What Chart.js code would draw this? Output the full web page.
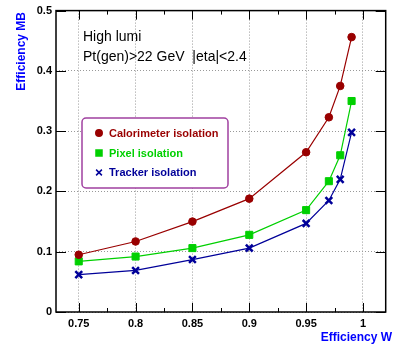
<!DOCTYPE html>
<html lang="en">
<head>
<meta charset="UTF-8">
<title>Efficiency MB vs Efficiency W</title>
<script src="https://cdn.jsdelivr.net/npm/chart.js"></script>
<style>
  html, body { margin: 0; padding: 0; background: #fff; }
  .chart-container { width: 393px; height: 347px; position: relative; }
</style>
</head>
<body>
<div class="chart-container">
  <canvas id="effChart"></canvas>
</div>
<script>
// working points (efficiency W) and efficiency MB for each isolation
var effW = [0.75, 0.8, 0.85, 0.9, 0.95, 0.97, 0.98, 0.99];
var caloIso = [0.095, 0.117, 0.150, 0.188, 0.265, 0.323, 0.375, 0.456];
var pixelIso = [0.084, 0.092, 0.106, 0.128, 0.169, 0.217, 0.260, 0.350];
var trackerIso = [0.062, 0.069, 0.087, 0.106, 0.147, 0.185, 0.220, 0.298];

var seriesNames = ['Calorimeter isolation', 'Pixel isolation', 'Tracker isolation'];
var xTicks = [0.75, 0.8, 0.85, 0.9, 0.95, 1];
var yTicks = [0, 0.1, 0.2, 0.3, 0.4, 0.5];
var infoLines = ['High lumi', 'Pt(gen)>22 GeV  |eta|<2.4'];
var xTitle = 'Efficiency W';
var yTitle = 'Efficiency MB';

var FONT = '"Liberation Sans", Arial, Helvetica, sans-serif';

function toPoints(ys) {
    return effW.map(function(x, i) { return { x: x, y: ys[i] }; });
}

function makeSet(label, values, color, style, radius, bw) {
    return {
        label: label,
        data: toPoints(values),
        showLine: true,
        borderColor: color,
        backgroundColor: color,
        borderWidth: 1.2,
        pointStyle: style,
        pointRadius: radius,
        pointBorderColor: color,
        pointBackgroundColor: color,
        pointBorderWidth: bw
    };
}

function fmt(v) {
    return String(Math.round(v * 1000) / 1000);
}

// frame, inward ticks, legend box and texts (ROOT style)
var rootStyle = {
    id: 'rootStyle',
    afterDatasetsDraw: function(chart) {
        var ctx = chart.ctx, a = chart.chartArea;
        var xs = chart.scales.x, ys = chart.scales.y;
        ctx.save();
        ctx.strokeStyle = '#000';
        ctx.lineWidth = 1;
        ctx.beginPath();
        // major x ticks, bottom and top
        xTicks.forEach(function(v) {
            var px = Math.round(xs.getPixelForValue(v)) + 0.5;
            ctx.moveTo(px, a.bottom); ctx.lineTo(px, a.bottom - 9);
            ctx.moveTo(px, a.top); ctx.lineTo(px, a.top + 9);
        });
        // minor x ticks
        for (var i = 0; i < xTicks.length - 1; i++) {
            var m = (xTicks[i] + xTicks[i + 1]) / 2;
            var pm = Math.round(xs.getPixelForValue(m)) + 0.5;
            ctx.moveTo(pm, a.bottom); ctx.lineTo(pm, a.bottom - 4);
            ctx.moveTo(pm, a.top); ctx.lineTo(pm, a.top + 4);
        }
        // y ticks, left and right
        yTicks.forEach(function(v) {
            var py = Math.round(ys.getPixelForValue(v)) + 0.5;
            ctx.moveTo(a.left, py); ctx.lineTo(a.left + 10, py);
            ctx.moveTo(a.right, py); ctx.lineTo(a.right - 10, py);
        });
        ctx.stroke();
        ctx.lineWidth = 1.5;
        ctx.strokeRect(a.left, a.top, a.right - a.left, a.bottom - a.top);
        ctx.restore();
    },
    afterDraw: function(chart) {
        var ctx = chart.ctx;
        ctx.save();
        // info text
        ctx.fillStyle = '#000';
        ctx.font = '14px ' + FONT;
        ctx.textAlign = 'left';
        ctx.textBaseline = 'alphabetic';
        ctx.fillText(infoLines[0], 83, 41);
        ctx.fillText(infoLines[1], 83, 61);

        // legend box
        var bx = 82, by = 118, bw = 146, bh = 70;
        ctx.beginPath();
        ctx.roundRect(bx, by, bw, bh, 4);
        ctx.fillStyle = '#fff';
        ctx.fill();
        ctx.strokeStyle = '#a040a0';
        ctx.lineWidth = 1.5;
        ctx.stroke();

        var rows = [133, 153, 172.5];
        ctx.font = 'bold 11px ' + FONT;
        ctx.textBaseline = 'middle';
        chart.data.datasets.forEach(function(ds, i) {
            var y = rows[i];
            ctx.fillStyle = ds.borderColor;
            ctx.strokeStyle = ds.borderColor;
            Chart.helpers.drawPoint(ctx, {
                pointStyle: ds.pointStyle,
                radius: ds.pointRadius * 0.85,
                borderWidth: ds.pointBorderWidth,
                rotation: 0
            }, 99, y);
            ctx.fillText(ds.label, 109, y + 0.5);
        });

        // axis titles
        ctx.fillStyle = '#0000ff';
        ctx.font = 'bold 12px ' + FONT;
        ctx.textAlign = 'right';
        ctx.textBaseline = 'middle';
        ctx.fillText(xTitle, 392, 338);
        ctx.translate(22, 12);
        ctx.rotate(-Math.PI / 2);
        ctx.fillText(yTitle, 0, 0);
        ctx.restore();
    }
};

var ctx = document.getElementById('effChart').getContext('2d');
var effChart = new Chart(ctx, {
    type: 'scatter',
    data: {
        datasets: [
            makeSet(seriesNames[0], caloIso, '#990000', 'circle', 3.8, 1),
            makeSet(seriesNames[1], pixelIso, '#00d000', 'rect', 5, 1),
            makeSet(seriesNames[2], trackerIso, '#000099', 'crossRot', 4.8, 2.5)
        ]
    },
    options: {
        responsive: true,
        maintainAspectRatio: false,
        animation: false,
        layout: { padding: { left: 0, top: 8, right: 1, bottom: 0 } },
        plugins: {
            legend: { display: false },
            tooltip: { enabled: false }
        },
        scales: {
            x: {
                type: 'linear',
                min: 0.73,
                max: 1.02,
                afterBuildTicks: function(scale) {
                    scale.ticks = xTicks.map(function(v) { return { value: v }; });
                },
                afterFit: function(scale) { scale.height = 35; },
                grid: { color: '#999', lineWidth: 1, drawTicks: false },
                border: { display: false, dash: [1, 2] },
                ticks: {
                    padding: 5,
                    color: '#000',
                    font: { family: FONT, size: 11, weight: 'bold' },
                    maxRotation: 0,
                    callback: function(v) { return fmt(v); }
                }
            },
            y: {
                type: 'linear',
                min: 0,
                max: 0.5,
                afterBuildTicks: function(scale) {
                    scale.ticks = yTicks.map(function(v) { return { value: v }; });
                },
                afterFit: function(scale) { scale.width = 56; },
                grid: { color: '#999', lineWidth: 1, drawTicks: false },
                border: { display: false, dash: [1, 2] },
                ticks: {
                    padding: 4,
                    color: '#000',
                    font: { family: FONT, size: 11, weight: 'bold' },
                    callback: function(v) { return fmt(v); }
                }
            }
        }
    },
    plugins: [rootStyle]
});
</script>
</body>
</html>
